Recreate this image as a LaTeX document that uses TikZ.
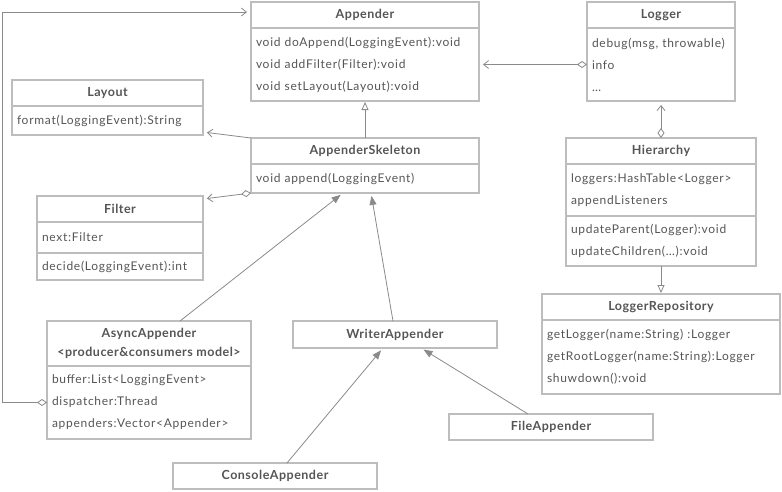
\documentclass[tikz,border=0pt]{standalone}
\usepackage{xcolor}
\usepackage{fontspec}
\setmainfont{Lato}[LetterSpace=6]
\newfontfamily\headfont{Lato}[LetterSpace=4]
\usepackage{tikz}
\usetikzlibrary{arrows.meta,positioning}
\definecolor{boxline}{HTML}{BDBDBD}
\definecolor{wirecol}{HTML}{8A8A8A}
\definecolor{ink}{HTML}{555555}
\tikzstyle{clshead} = [rectangle, draw=boxline, line width=1.4pt, outer sep=0pt, inner sep=0pt, text=ink, align=center, font=\headfont\bfseries\fontsize{12.5}{19}\selectfont, anchor=north west, minimum height=26pt]
\tikzstyle{clsbody} = [rectangle, draw=boxline, line width=1.4pt, outer sep=0pt, inner xsep=5pt, inner ysep=0pt, text=ink, align=left, font=\fontsize{12}{22}\selectfont]
\tikzstyle{wire} = [draw=wirecol, line width=0.8pt]
\tikzstyle{assoc} = [wire, -{Straight Barb[length=5pt,width=8pt]}, shorten >=4pt]
\tikzstyle{aggr} = [wire, {Diamond[open,length=10pt,width=7pt]}-{Straight Barb[length=5pt,width=8pt]}, shorten >=4pt]
\tikzstyle{realize} = [wire, -{Triangle[open,length=8pt,width=7pt]}, shorten >=1pt]
\tikzstyle{extend} = [wire, -{Triangle[length=9pt,width=7pt]}, shorten >=3pt]
\hyphenpenalty=10000
\exhyphenpenalty=10000

\begin{document}
\begin{tikzpicture}[x=1pt, y=-1pt]
\useasboundingbox (0,0) rectangle (782,491);

% classes
\node (appHead) [clshead, minimum width=228pt] at (251,2) {Appender};
\node (appBody) [clsbody, text width=218pt, minimum height=73pt, below=0pt of appHead] {void doAppend(LoggingEvent):void\\void addFilter(Filter):void\\void setLayout(Layout):void};

\node (logHead) [clshead, minimum width=148pt] at (587,2) {Logger};
\node (logBody) [clsbody, text width=138pt, minimum height=73pt, below=0pt of logHead] {debug(msg, throwable)\\info\\…};

\node (layHead) [clshead, minimum width=191pt] at (12,80) {Layout};
\node (layBody) [clsbody, text width=181pt, minimum height=29pt, below=0pt of layHead] {format(LoggingEvent):String};

\node (skelHead) [clshead, minimum width=228pt] at (251,138) {AppenderSkeleton};
\node (skelBody) [clsbody, text width=218pt, minimum height=29pt, below=0pt of skelHead] {void append(LoggingEvent)};

\node (filHead) [clshead, minimum width=166pt] at (37,196) {Filter};
\node (filBodyA) [clsbody, text width=156pt, minimum height=31pt, below=0pt of filHead] {next:Filter};
\node (filBodyB) [clsbody, text width=156pt, minimum height=27pt, below=0pt of filBodyA] {decide(LoggingEvent):int};

\node (hierHead) [clshead, minimum width=190pt] at (566,138) {Hierarchy};
\node (hierBodyA) [clsbody, text width=180pt, minimum height=52pt, below=0pt of hierHead] {loggers:HashTable<Logger>\\appendListeners};
\node (hierBodyB) [clsbody, text width=180pt, minimum height=50pt, below=0pt of hierBodyA] {updateParent(Logger):void\\updateChildren(…):void};

\node (repoHead) [clshead, minimum width=238pt] at (542,294) {LoggerRepository};
\node (repoBody) [clsbody, text width=228pt, minimum height=74pt, below=0pt of repoHead] {getLogger(name:String) :Logger\\getRootLogger(name:String):Logger\\shuwdown():void};

\node (asyncHead) [clshead, minimum width=204pt, minimum height=45pt] at (47,321) {AsyncAppender\\<producer\&consumers model>};
\node (asyncBody) [clsbody, text width=194pt, minimum height=73pt, below=0pt of asyncHead] {buffer:List<LoggingEvent>\\dispatcher:Thread\\appenders:Vector<Appender>};

\node (writer) [clshead, minimum width=204pt, minimum height=27pt] at (293,321) {WriterAppender};
\node (file) [clshead, minimum width=204pt] at (449,414) {FileAppender};
\node (console) [clshead, minimum width=204pt] at (173,463) {ConsoleAppender};

% relations
\draw[aggr] (logBody.west) -- (appBody.east);
\draw[aggr] (hierHead.north) -- (logBody.south);
\draw[realize] (skelHead.north) -- (appBody.south);
\draw[assoc] (skelHead.north west) -- ([yshift=3pt]layBody.south east);
\draw[aggr] (skelBody.south west) -- ([yshift=-3pt]filHead.north east);
\draw[realize] (hierBodyB.south) -- (repoHead.north);
\draw[extend] ([xshift=31pt]asyncHead.north) -- ([xshift=-22pt]skelBody.south);
\draw[extend] ([xshift=-2pt]writer.north) -- ([xshift=6pt]skelBody.south);
\draw[extend] ([xshift=12pt]console.north) -- ([xshift=-12pt]writer.south);
\draw[extend] ([xshift=-23pt]file.north) -- ([xshift=26pt]writer.south);
\coordinate (loopTop) at (2,12);
\draw[aggr] (asyncBody.west) -| (loopTop) -- ([yshift=3pt]appHead.west);

\end{tikzpicture}
\end{document}
